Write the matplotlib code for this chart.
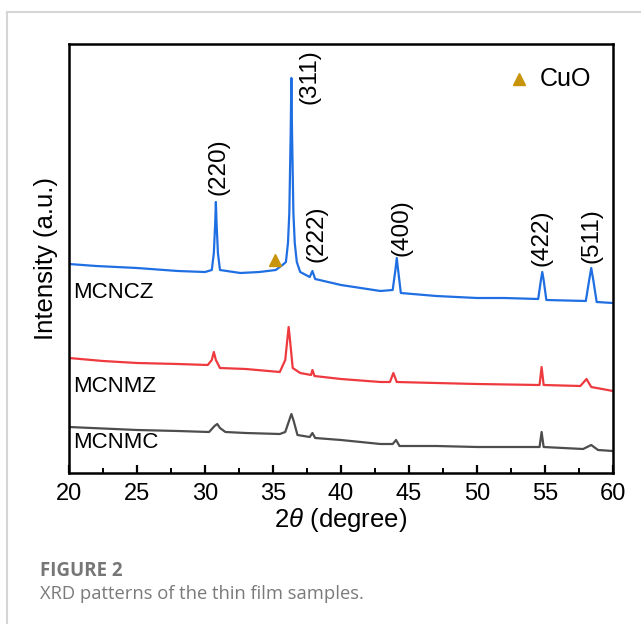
import matplotlib
matplotlib.use("Agg")
import matplotlib.pyplot as plt
from matplotlib.lines import Line2D

plt.rcParams['font.family'] = ['Liberation Sans', 'DejaVu Sans']
plt.rcParams['mathtext.fontset'] = 'custom'
plt.rcParams['mathtext.it'] = 'Liberation Sans:italic'
plt.rcParams['mathtext.rm'] = 'Liberation Sans'

# ---- data (2theta in degrees, intensity in a.u.) ----
mcncz_2theta = [20.0, 22.0, 25.0, 28.0, 30.0, 30.5, 30.65, 30.75, 30.8, 30.85, 30.95, 31.1,
                32.6, 34.0, 35.2, 35.7, 35.95, 36.1, 36.2, 36.3, 36.35, 36.4, 36.5, 36.6, 36.75, 37.0,
                37.7, 37.9, 38.1, 40.0, 42.9, 43.8, 44.0, 44.1, 44.2, 44.4, 47.0, 50.0, 52.0,
                54.5, 54.7, 54.8, 54.9, 55.1, 58.0, 58.25, 58.4, 58.55, 58.8, 60.0]
mcncz_int = [209, 207, 205, 202, 201, 203, 220, 250, 271, 250, 220, 203,
             200, 201, 203, 208, 211, 230, 260, 340, 395, 340, 260, 230, 211, 201,
             196, 202, 194, 188, 182, 183, 203, 215, 203, 180, 177, 175, 175,
             174, 193, 201, 193, 173, 172, 193, 205, 193, 171, 170]

mcnmz_2theta = [20.0, 22.5, 25.0, 28.0, 30.2, 30.5, 30.65, 30.8, 31.1, 33.0, 35.5, 35.9,
                36.05, 36.15, 36.25, 36.45, 37.0, 37.8, 37.9, 38.05, 40.0, 42.9, 43.6, 43.85,
                44.1, 47.0, 50.0, 54.6, 54.75, 54.9, 57.6, 58.05, 58.4, 60.0]
mcnmz_int = [115, 112, 110, 109, 108, 113, 121, 113, 105, 104, 101, 113,
             133, 146, 133, 105, 100, 98, 103, 97, 94, 91, 91, 100,
             91, 90, 89, 88, 106, 88, 87, 94, 86, 82]

mcnmc_2theta = [20.0, 25.0, 28.0, 30.3, 30.7, 30.9, 31.1, 31.5, 33.0, 35.5, 35.9, 36.2,
                36.35, 36.5, 36.8, 37.7, 37.9, 38.1, 40.0, 42.9, 43.8, 44.05, 44.3, 47.0,
                50.0, 54.6, 54.75, 54.9, 57.8, 58.4, 58.9, 60.0]
mcnmc_int = [46, 43, 42, 41, 47, 49, 45, 41, 40, 39, 41, 53,
             59, 53, 38, 36, 40, 35, 33, 29, 29, 33, 27, 27,
             26, 26, 41, 26, 24, 28, 23, 22]

sample_names = ['MCNCZ', 'MCNMZ', 'MCNMC']
sample_label_y = [181, 87, 31]

peak_labels = ['(220)', '(311)', '(222)', '(400)', '(422)', '(511)']
peak_label_x = [31.0, 37.7, 38.2, 44.45, 54.75, 58.4]
peak_label_y = [306, 396, 239, 245, 235, 237]

cuo_x = [35.15]
cuo_y = [213]

# ---- figure ----
fig = plt.figure(figsize=(6.41, 6.24), dpi=100)
ax = fig.add_axes([69/641, 1 - 473/624, 544/641, 429/624])

blue = '#1f6fe3'
red = '#ee3a3e'
grey = '#4d4d4d'
lw = 1.6
ax.plot(mcncz_2theta, mcncz_int, color=blue, lw=lw)
ax.plot(mcnmz_2theta, mcnmz_int, color=red, lw=lw)
ax.plot(mcnmc_2theta, mcnmc_int, color=grey, lw=lw)

ax.plot(cuo_x, cuo_y, marker='^', color='#c8940a', ms=9, ls='none')

for name, y in zip(sample_names, sample_label_y):
    ax.text(20.3, y, name, fontsize=16, ha='left', va='center')

for lab, x, y in zip(peak_labels, peak_label_x, peak_label_y):
    ax.text(x, y, lab, fontsize=17.5, rotation=90, ha='center', va='center')

# legend
ax.plot([53.1], [394], marker='^', color='#c8940a', ms=9, ls='none')
ax.text(54.6, 394, 'CuO', fontsize=18, ha='left', va='center')

ax.set_xlim(20, 60)
ax.set_ylim(0, 429)
ax.set_yticks([])
ax.set_xticks(range(20, 61, 5))
ax.set_xticks([22.5 + 5 * i for i in range(8)], minor=True)
ax.tick_params(axis='x', which='major', direction='in', length=6, width=1.6,
               labelsize=17, pad=7, top=False)
ax.tick_params(axis='x', which='minor', direction='in', length=3.5, width=1.4, top=False)
for s in ax.spines.values():
    s.set_linewidth(1.8)

ax.set_xlabel(r'2$\theta$ (degree)', fontsize=18.5, labelpad=1)
ax.set_ylabel('Intensity (a.u.)', fontsize=18.5, labelpad=8)

# page frame
fig.add_artist(Line2D([7/641, 1], [1 - 12/624, 1 - 12/624], color='#d6d6d6', lw=1.5))
fig.add_artist(Line2D([7/641, 7/641], [0, 1 - 12/624], color='#d6d6d6', lw=1.5))

# caption
fig.text(40/641, 1 - 571/624, 'FIGURE 2', fontsize=13.5, fontweight='bold',
         color='#767676', family=['Open Sans', 'DejaVu Sans'], va='center')
fig.text(40/641, 1 - 594/624, 'XRD patterns of the thin film samples.', fontsize=13.2,
         color='#7a7a7a', family=['Open Sans', 'DejaVu Sans'], va='center')

fig.savefig('out.png', dpi=100)
